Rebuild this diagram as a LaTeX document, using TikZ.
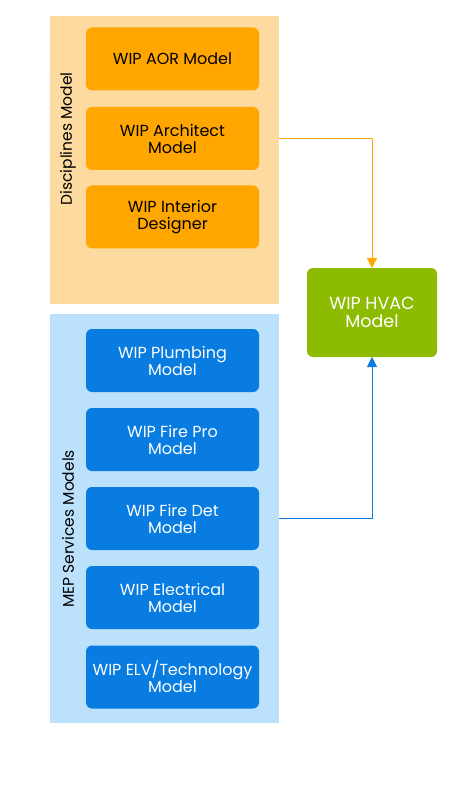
\documentclass[tikz,border=0pt]{standalone}
\usepackage{fontspec}
\setmainfont{Poppins}
\usetikzlibrary{arrows.meta}
\definecolor{discbg}{RGB}{253,218,160}
\definecolor{discbox}{RGB}{255,167,0}
\definecolor{mepbg}{RGB}{187,225,252}
\definecolor{mepbox}{RGB}{8,124,224}
\definecolor{hvacbox}{RGB}{140,187,0}
\tikzset{
	panel/.style={inner sep=0pt, outer sep=0pt},
	modelbox/.style={rounded corners=6pt, minimum width=173pt, minimum height=63pt, inner sep=0pt, outer sep=0pt, align=center, font=\fontsize{16}{17}\selectfont},
	discmodel/.style={modelbox, fill=discbox, text=black},
	mepmodel/.style={modelbox, fill=mepbox, text=white},
	panellabel/.style={rotate=90, font=\fontsize{15.5}{17}\selectfont}
}
\begin{document}
\begin{tikzpicture}[x=1pt, y=-1pt]
				\useasboundingbox (0, 0) rectangle (470, 791);
				% discipline models
				\node [panel, fill=discbg, minimum width=229pt, minimum height=288pt] (disc) at (164.5, 160) {};
				\node [panellabel] (disclabel) at (68, 139) {Disciplines Model};
				\node [discmodel] (aor) at (172.5, 59) {WIP AOR Model};
				\node [discmodel] (arch) at (172.5, 138.5) {WIP Architect\\Model};
				\node [discmodel] (interior) at (172.5, 217) {WIP Interior\\Designer};
				% MEP services
				\node [panel, fill=mepbg, minimum width=229pt, minimum height=409pt] (mep) at (164.5, 518.5) {};
				\node [panellabel] (meplabel) at (68, 529) {MEP Services Models};
				\node [mepmodel] (plumbing) at (172.5, 360.5) {WIP Plumbing\\Model};
				\node [mepmodel] (firepro) at (172.5, 439.5) {WIP Fire Pro\\Model};
				\node [mepmodel] (firedet) at (172.5, 518.5) {WIP Fire Det\\Model};
				\node [mepmodel] (electrical) at (172.5, 597.5) {WIP Electrical\\Model};
				\node [mepmodel] (elv) at (172.5, 677) {WIP ELV/Technology\\Model};
				% HVAC
				\node [modelbox, fill=hvacbox, text=white, minimum width=130pt, minimum height=89pt, font=\fontsize{17.5}{18}\selectfont] (hvac) at (372, 312.5) {WIP HVAC\\Model};
				\draw [discbox, line width=1pt, -{Triangle[width=10pt, length=10pt]}] (arch.east -| disc.east) -| (hvac.north);
				\draw [mepbox, line width=1pt, -{Triangle[width=10pt, length=10pt]}] (firedet.east -| mep.east) -| (hvac.south);
			\end{tikzpicture}
\end{document}
